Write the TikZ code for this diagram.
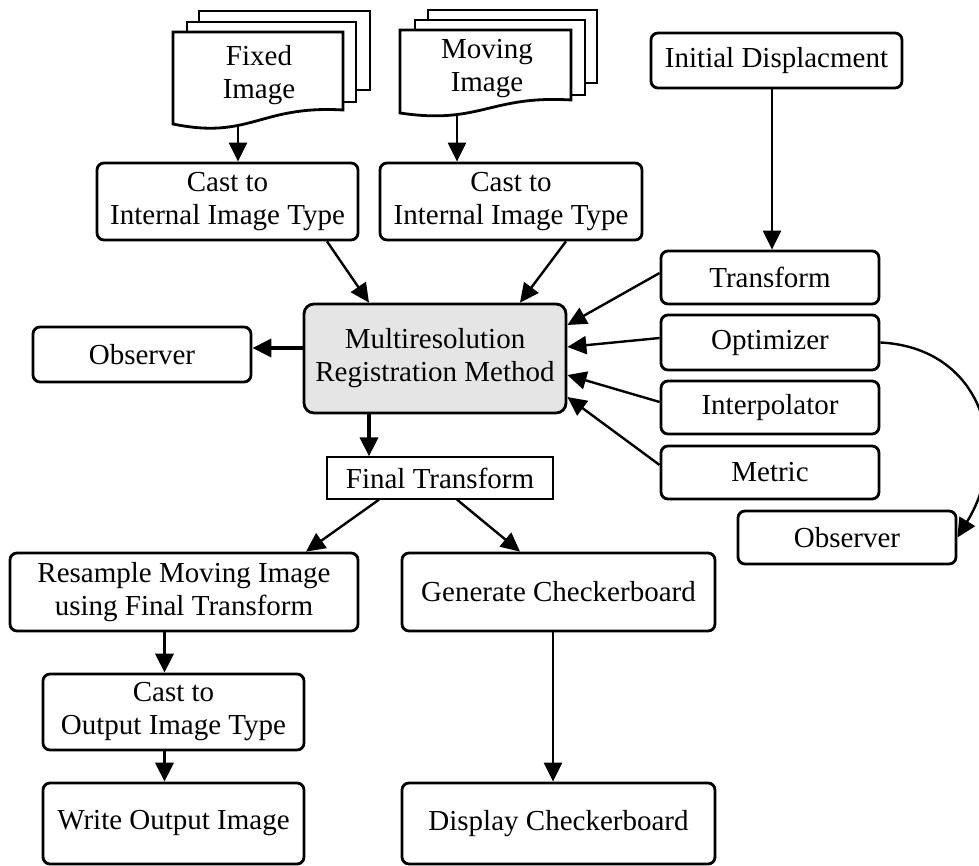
\documentclass[tikz,border=0pt]{standalone}
\usepackage{fontspec}
\setmainfont{Liberation Serif}
\usetikzlibrary{arrows.meta,calc}
\begin{document}
\begin{tikzpicture}[x=1pt,y=-1pt,
  every node/.style={font=\fontsize{29}{33}\selectfont, align=center, inner sep=0pt},
  box/.style={draw, line width=2.8pt, rounded corners=7pt, fill=white},
  arr/.style={line width=2.4pt, -{Triangle[length=19pt,width=18pt]}},
  thickarr/.style={line width=3.6pt, -{Triangle[length=19pt,width=18pt]}},
  page/.style={draw, line width=2.8pt, fill=white, line join=miter},
]
\useasboundingbox (0,0) rectangle (979,866);

% document stacks
\draw[page] (199,11) rectangle (370,90);
\draw[page] (187,22) rectangle (356,102);
\draw[page] (173,32) -- (343,32) -- (343,110) .. controls (260,105) and (250,140) .. (173,124) -- cycle;
\node (fixed) at (259,75) {Fixed\\Image};
\coordinate (fixedbot) at (238,126);

\draw[page] (428,10) rectangle (597,83);
\draw[page] (415,20) rectangle (585,95);
\draw[page] (400,30) -- (571,30) -- (571,100) .. controls (490,95) and (480,125) .. (400,113) -- cycle;
\node (moving) at (487,69) {Moving\\Image};
\coordinate (movingbot) at (457,114.6);

% boxes
\node[box, minimum width=261pt, minimum height=77pt] (cast1) at (227.5,201.5) {Cast to\\Internal Image Type};
\node[box, minimum width=262pt, minimum height=77pt] (cast2) at (511,201.5) {Cast to\\Internal Image Type};
\node[box, minimum width=251pt, minimum height=55pt] (initd) at (776.5,60.5) {Initial Displacment};
\node[box, minimum width=218pt, minimum height=53pt] (transform) at (770,277.5) {Transform};
\node[box, minimum width=218pt, minimum height=55pt] (optimizer) at (770,342.5) {Optimizer};
\node[box, minimum width=218pt, minimum height=53pt] (interp) at (770,407.5) {Interpolator};
\node[box, minimum width=218pt, minimum height=53pt] (metric) at (770,472.5) {Metric};
\node[box, minimum width=218pt, minimum height=53pt] (obsR) at (847,537.5) {Observer};
\node[box, fill=gray!20, rounded corners=10pt, minimum width=262pt, minimum height=109pt] (multi) at (435,358.5) {Multiresolution\\Registration Method};
\node[box, minimum width=218pt, minimum height=55pt] (obsL) at (142,354.5) {Observer};
\node[draw, line width=1.3pt, minimum width=226pt, minimum height=42pt] (final) at (440,478) {Final Transform};
\node[box, minimum width=348pt, minimum height=78pt] (resample) at (184,592) {Resample Moving Image\\using Final Transform};
\node[box, minimum width=313pt, minimum height=78pt] (generate) at (558.5,592) {Generate Checkerboard};
\node[box, minimum width=261pt, minimum height=76pt] (castout) at (173.5,712) {Cast to\\Output Image Type};
\node[box, minimum width=261pt, minimum height=81pt] (write) at (173.5,823.5) {Write Output Image};
\node[box, minimum width=313pt, minimum height=81pt] (display) at (558.5,823.5) {Display Checkerboard};

% connectors
\draw[arr] (fixedbot) -- (fixedbot |- cast1.north);
\draw[arr] (movingbot) -- (movingbot |- cast2.north);
\draw[arr] ([xshift=99.5pt]cast1.south) -- ([xshift=-66pt]multi.north);
\draw[arr] ([xshift=55pt]cast2.south) -- ([xshift=85pt]multi.north);
\draw[arr] ([xshift=-4.5pt]initd.south) -- ([xshift=-4.5pt]initd.south |- transform.north);
\draw[arr] ([yshift=4.5pt]transform.west) -- ([yshift=33.5pt]multi.east);
\draw[arr] ([yshift=4.5pt]optimizer.west) -- ([yshift=11.5pt]multi.east);
\draw[arr] ([yshift=5.5pt]interp.west) -- ([yshift=-16.5pt]multi.east);
\draw[arr] ([yshift=7.5pt]metric.west) -- ([yshift=-38.5pt]multi.east);
\draw[thickarr] ([yshift=10.5pt]multi.west) -- ([yshift=10.5pt]multi.west -| obsL.east);
\draw[thickarr] ([xshift=-66pt]multi.south) -- ([xshift=-66pt]multi.south |- final.north);
\draw[arr] ([xshift=-61pt]final.south) -- ([xshift=122pt]resample.north);
\draw[arr] ([xshift=17pt]final.south) -- ([xshift=-38.5pt]generate.north);
\draw[thickarr] ([xshift=-9pt]castout.north |- resample.south) -- ([xshift=-9pt]castout.north);
\draw[thickarr] ([xshift=-9pt]castout.south) -- ([xshift=-9pt]castout.south |- write.north);
\draw[arr] ([xshift=-5.5pt]generate.south) -- ([xshift=-5.5pt]generate.south |- display.north);
\draw[arr] (optimizer.east) .. controls ($(optimizer.east)+(100,5)$) and ($(obsR.east)+(55,-90)$) .. (obsR.east);
\end{tikzpicture}
\end{document}
